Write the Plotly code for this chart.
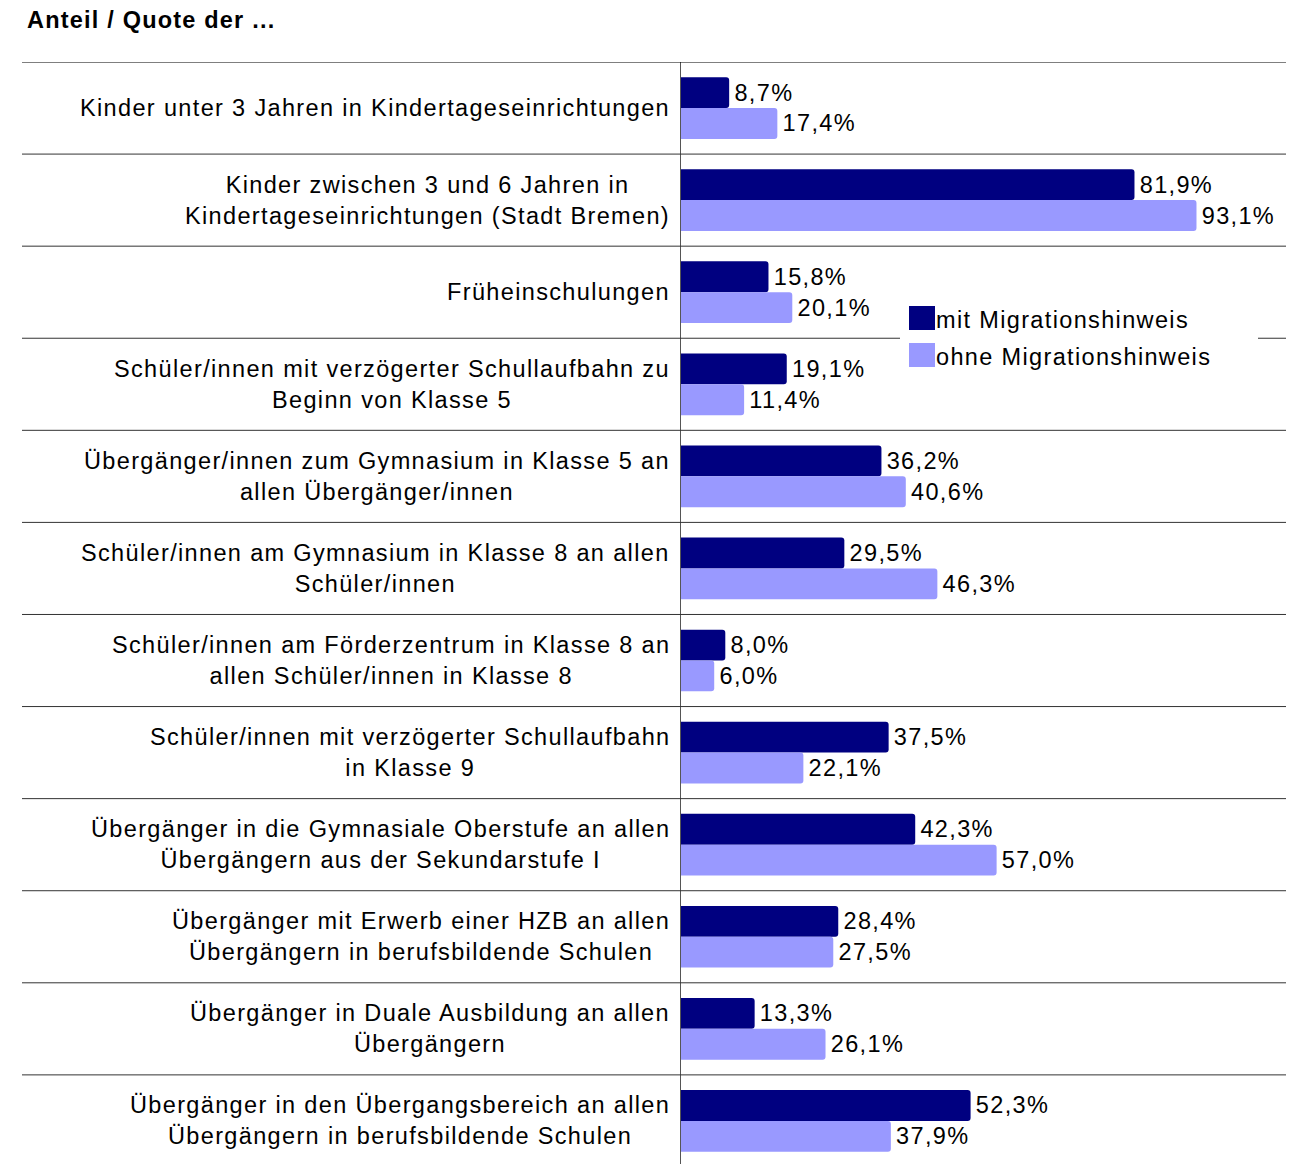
import plotly.graph_objects as go

title_text = "Anteil / Quote der ..."
series_names = ["mit Migrationshinweis", "ohne Migrationshinweis"]
categories = [
    ["Kinder unter 3 Jahren in Kindertageseinrichtungen"],
    ["Kinder zwischen 3 und 6 Jahren in", "Kindertageseinrichtungen (Stadt Bremen)"],
    ["Früheinschulungen"],
    ["Schüler/innen mit verzögerter Schullaufbahn zu", "Beginn von Klasse 5"],
    ["Übergänger/innen zum Gymnasium in Klasse 5 an", "allen Übergänger/innen"],
    ["Schüler/innen am Gymnasium in Klasse 8 an allen", "Schüler/innen"],
    ["Schüler/innen am Förderzentrum in Klasse 8 an", "allen Schüler/innen in Klasse 8"],
    ["Schüler/innen mit verzögerter Schullaufbahn", "in Klasse 9"],
    ["Übergänger in die Gymnasiale Oberstufe an allen", "Übergängern aus der Sekundarstufe I"],
    ["Übergänger mit Erwerb einer HZB an allen", "Übergängern in berufsbildende Schulen"],
    ["Übergänger in Duale Ausbildung an allen", "Übergängern"],
    ["Übergänger in den Übergangsbereich an allen", "Übergängern in berufsbildende Schulen"],
]
mit_values = [8.7, 81.9, 15.8, 19.1, 36.2, 29.5, 8.0, 37.5, 42.3, 28.4, 13.3, 52.3]
ohne_values = [17.4, 93.1, 20.1, 11.4, 40.6, 46.3, 6.0, 22.1, 57.0, 27.5, 26.1, 37.9]

DARK = "#000080"
LIGHT = "#9999FF"
FONT = "Liberation Sans, Arial, sans-serif"
FS = 23.5
LS = "letter-spacing:1.35px"

# the page body has an 8px default margin; figure is sized to fit the window
OFF = 8
W, H = 1296 - OFF, 1164 - OFF
ML, MR, MT, MB = 681 - OFF, 10, 62 - OFF, 0
PW, PH = W - ML - MR, H - MT - MB


def px(x):
    # x given in window pixels
    return (x - OFF - ML) / PW


def py(y):
    return 1 - (y - OFF - MT) / PH


def spaced(s, style=LS):
    return f'<span style="{style}">{s}</span>'


cat_ids = [" ".join(c) for c in categories]

fig = go.Figure()
for name, vals, col in [(series_names[0], mit_values, DARK), (series_names[1], ohne_values, LIGHT)]:
    fig.add_trace(go.Bar(
        y=cat_ids, x=vals, orientation="h", name=name,
        marker=dict(color=col, line=dict(width=0), cornerradius=3),
        texttemplate='<span style="font-size:8px">&nbsp;</span>' + spaced("%{x:.1f}%"),
        textposition="outside",
        textfont=dict(family=FONT, size=FS, color="#000000"),
        constraintext="none", cliponaxis=False, showlegend=False,
    ))

shapes = []
for i in range(len(categories)):
    shapes.append(dict(type="line", xref="paper", yref="y", x0=px(22), x1=px(1286),
                       y0=i - 0.5, y1=i - 0.5,
                       line=dict(color="#000000" if i == 0 else "#333333", width=1), layer="above"))
# legend
shapes.append(dict(type="rect", xref="paper", yref="paper", x0=px(900), x1=px(1258),
                   y0=py(382), y1=py(298), fillcolor="white", line=dict(width=0), layer="above"))
shapes.append(dict(type="rect", xref="paper", yref="paper", x0=px(909), x1=px(935),
                   y0=py(330), y1=py(306), fillcolor=DARK, line=dict(width=0), layer="above"))
shapes.append(dict(type="rect", xref="paper", yref="paper", x0=px(909), x1=px(935),
                   y0=py(367), y1=py(343), fillcolor=LIGHT, line=dict(width=0), layer="above"))

annotations = []
for cid, lines in zip(cat_ids, categories):
    annotations.append(dict(
        x=px(672), xref="paper", y=cid, yref="y", xanchor="right", yanchor="middle",
        align="center", showarrow=False,
        text="<br>".join(spaced(l) for l in lines),
        font=dict(family=FONT, size=FS, color="#000000"),
    ))
for name, yc in [(series_names[0], 320), (series_names[1], 357)]:
    annotations.append(dict(
        x=px(934), xref="paper", y=py(yc), yref="paper", xanchor="left", yanchor="middle",
        showarrow=False, text=spaced(name),
        font=dict(family=FONT, size=FS, color="#000000"),
    ))
annotations.append(dict(
    x=px(25), xref="paper", y=py(20), yref="paper", xanchor="left", yanchor="middle",
    showarrow=False, text="<b>" + spaced(title_text, "letter-spacing:1.2px") + "</b>",
    font=dict(family=FONT, size=23.5, color="#000000"),
))

span = PH / 92.08
fig.update_layout(
    width=W, height=H,
    margin=dict(l=ML, r=MR, t=MT, b=MB, pad=0),
    paper_bgcolor="white", plot_bgcolor="white",
    barmode="group", bargap=0.33, bargroupgap=0,
    separators=",.",
    showlegend=False,
    xaxis=dict(range=[0, PW / 5.537], showgrid=False, zeroline=False, showticklabels=False,
               ticks="", showline=False, fixedrange=True),
    yaxis=dict(range=[-0.5 + span, -0.5], showgrid=False, zeroline=False, showticklabels=False,
               ticks="", showline=True, linecolor="#555555", linewidth=1, fixedrange=True),
    shapes=shapes, annotations=annotations,
    font=dict(family=FONT, size=FS, color="#000000"),
)

fig.write_html("out.html")
